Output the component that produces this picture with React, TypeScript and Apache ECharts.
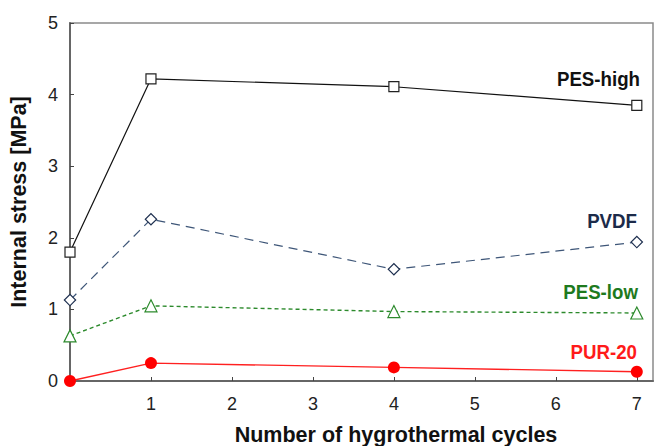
import React, { useEffect, useRef } from "react";
import * as echarts from "echarts";

const cycles = [0, 1, 4, 7];
const pesHigh = [1.8, 4.22, 4.11, 3.85];
const pvdf = [1.13, 2.26, 1.56, 1.94];
const pesLow = [0.63, 1.05, 0.97, 0.95];
const pur20 = [0, 0.25, 0.19, 0.13];
const yTicks = [0, 1, 2, 3, 4, 5];

const FONT = "Liberation Sans, Arial, sans-serif";

export default function App() {
  const ref = useRef<HTMLDivElement>(null);
  useEffect(() => {
    if (!ref.current) return;
    const chart = echarts.init(ref.current, undefined, { renderer: "svg" });
    const pts = (ys: number[]) => cycles.map((x, i) => [x, ys[i]]);
    const seriesLabel = (text: string, x: number, y: number, fill: string) => ({
      type: "text",
      x,
      y,
      scaleY: 1.12,
      style: { text, fill, font: `bold 18.7px ${FONT}`, align: "right", verticalAlign: "middle" },
    });
    chart.setOption({
      animation: false,
      backgroundColor: "#ffffff",
      grid: {
        left: 70,
        right: 1,
        top: 23,
        bottom: 65,
        show: true,
        borderColor: "#8a8a8a",
        borderWidth: 1.5,
      },
      xAxis: {
        type: "value",
        min: 0,
        max: 7.2,
        interval: 1,
        splitLine: { show: false },
        axisLine: { show: true, lineStyle: { color: "#666", width: 2 } },
        axisTick: { show: true, inside: true, length: 4, lineStyle: { color: "#444", width: 1 } },
        axisLabel: {
          color: "#222",
          fontSize: 18,
          fontFamily: FONT,
          margin: 14,
          showMaxLabel: false,
          formatter: (v: number) => (v === 0 || v % 1 !== 0 ? "" : String(v)),
        },
      },
      yAxis: {
        type: "value",
        min: yTicks[0],
        max: yTicks[yTicks.length - 1],
        interval: 1,
        name: "Internal stress [MPa]",
        nameLocation: "middle",
        nameGap: 40,
        nameTextStyle: { color: "#111", fontSize: 21.5, fontWeight: "bold", fontFamily: FONT },
        splitLine: { show: false },
        axisLine: { show: true, lineStyle: { color: "#666", width: 2 } },
        axisTick: { show: true, inside: true, length: 4, lineStyle: { color: "#444", width: 1 } },
        axisLabel: { color: "#222", fontSize: 18, fontFamily: FONT, margin: 12 },
      },
      graphic: [
        {
          type: "text",
          x: 396,
          y: 434.5,
          style: {
            text: "Number of hygrothermal cycles",
            fill: "#111",
            font: `bold 21.5px ${FONT}`,
            align: "center",
            verticalAlign: "middle",
          },
        },
        seriesLabel("PES-high", 640, 79, "#111"),
        seriesLabel("PVDF", 637, 221, "#1c2b4a"),
        seriesLabel("PES-low", 638, 292, "#1e7a1e"),
        seriesLabel("PUR-20", 637, 352, "#ff1a1a"),
      ],
      series: [
        {
          name: "PES-high",
          type: "line",
          data: pts(pesHigh),
          clip: false,
          symbol: "rect",
          symbolSize: 10,
          lineStyle: { color: "#111", width: 1.2 },
          itemStyle: { color: "#fff", borderColor: "#222", borderWidth: 1.2 },
          z: 4,
        },
        {
          name: "PVDF",
          type: "line",
          data: pts(pvdf),
          clip: false,
          symbol: "rect",
          symbolRotate: 45,
          symbolSize: 8,
          lineStyle: { color: "#3e5678", width: 1.2, type: [9, 6] },
          itemStyle: { color: "#fff", borderColor: "#1f3050", borderWidth: 1.2 },
          z: 3,
        },
        {
          name: "PES-low",
          type: "line",
          data: pts(pesLow),
          clip: false,
          symbol: "triangle",
          symbolSize: 12,
          lineStyle: { color: "#2c8a2c", width: 1.4, type: [4, 3] },
          itemStyle: { color: "#fff", borderColor: "#2c8a2c", borderWidth: 1.2 },
          z: 3,
        },
        {
          name: "PUR-20",
          type: "line",
          data: pts(pur20),
          clip: false,
          symbol: "circle",
          symbolSize: 12,
          lineStyle: { color: "#ff2020", width: 1.4 },
          itemStyle: { color: "#ff0000", borderColor: "#ff0000", borderWidth: 0 },
          z: 5,
        },
      ],
    });
    return () => chart.dispose();
  }, []);
  return <div ref={ref} style={{ width: 654, height: 446, position: "absolute", left: 0, top: 0 }} />;
}
